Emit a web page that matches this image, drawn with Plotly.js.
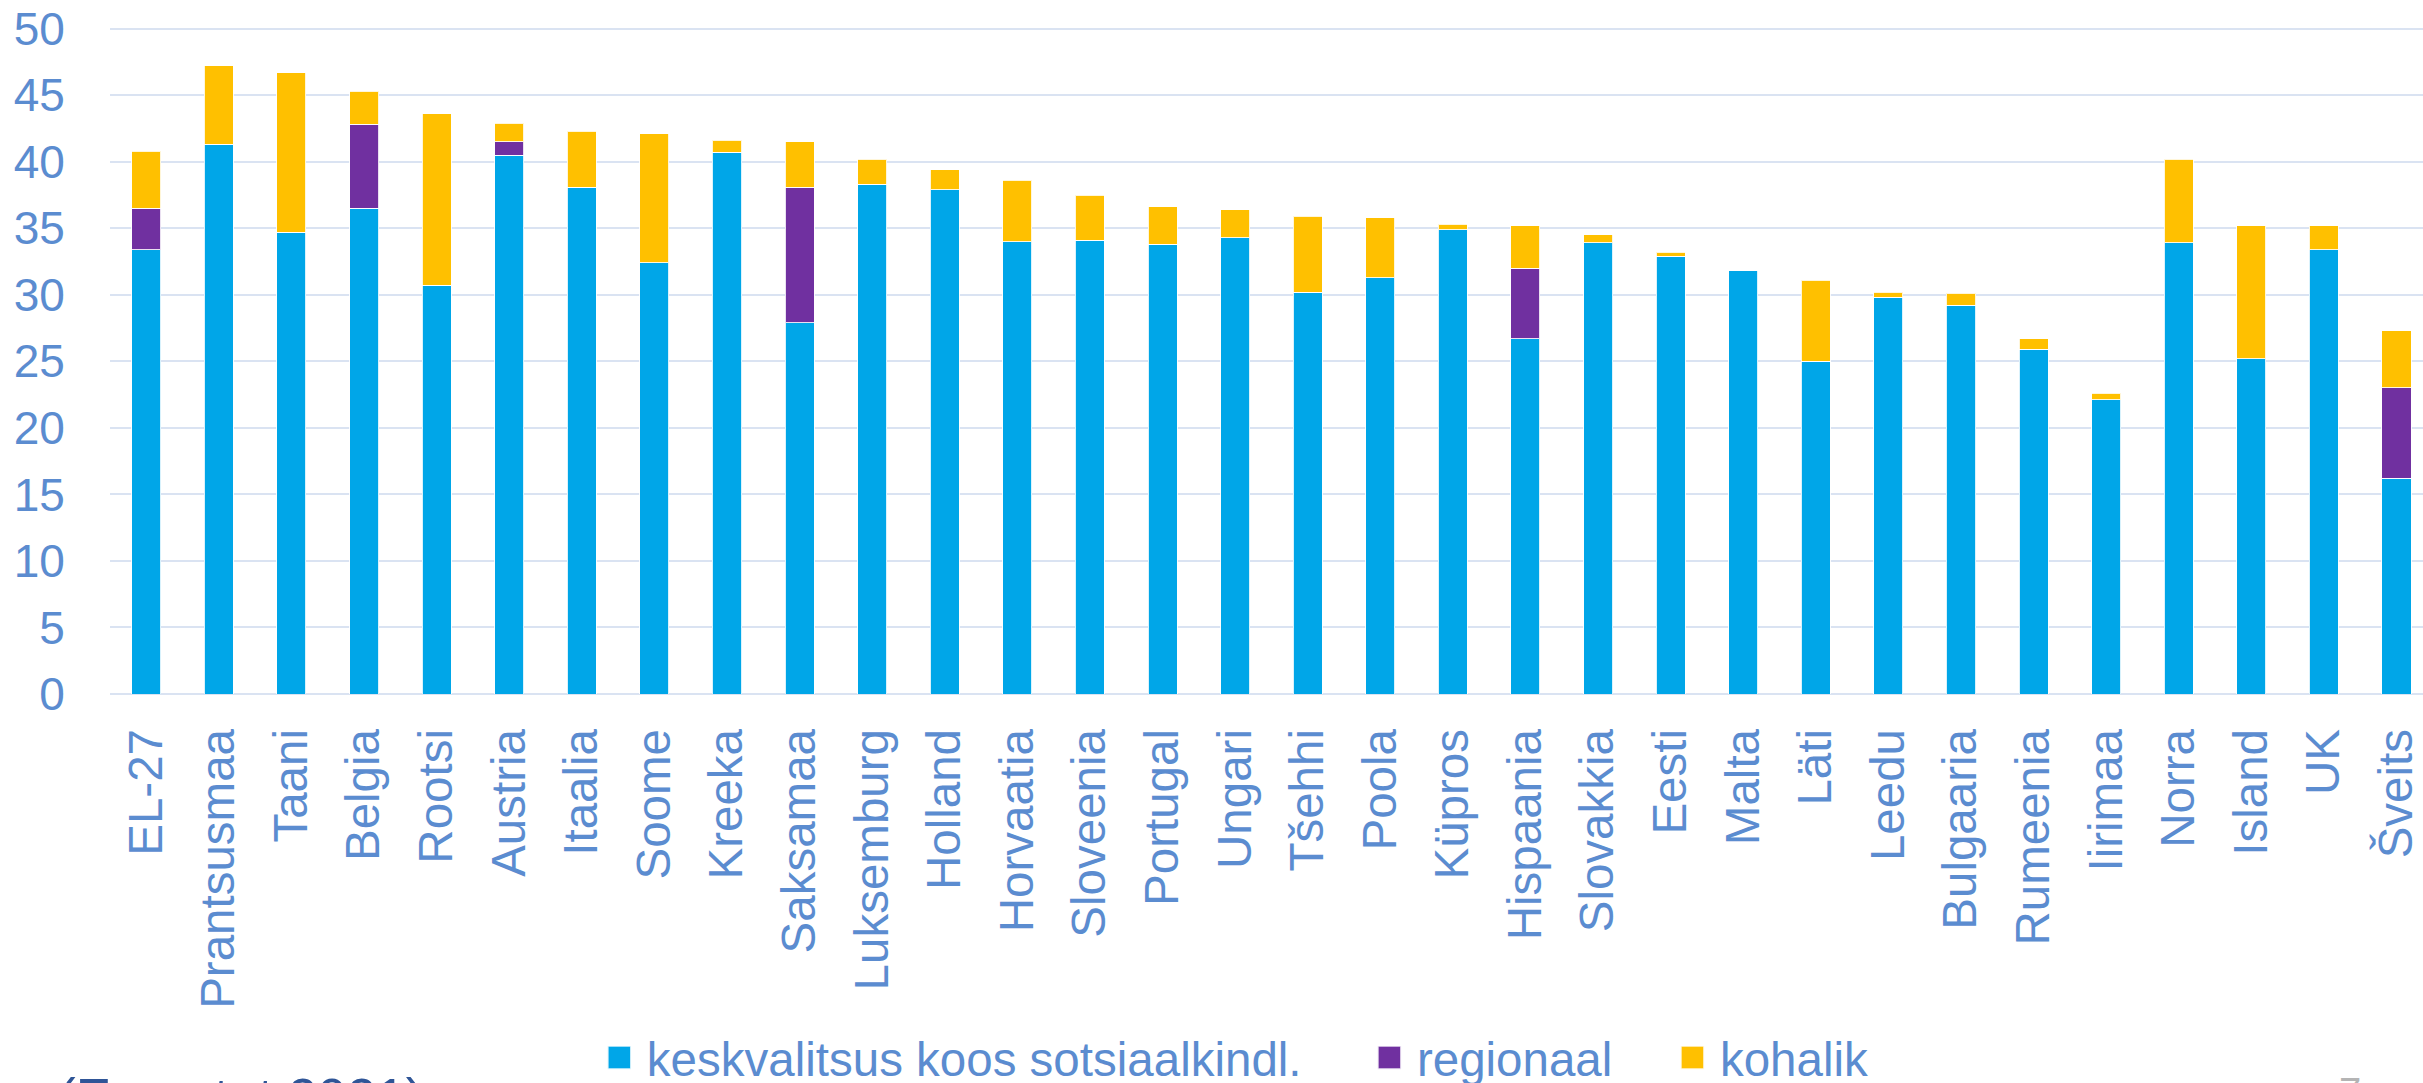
<!DOCTYPE html>
<html>
<head>
<meta charset="utf-8">
<script src="https://cdn.plot.ly/plotly-3.0.1.min.js"></script>
<style>
  html, body { margin: 0; padding: 0; background: #ffffff; }
  #chart { width: 2423px; height: 1083px; }
</style>
</head>
<body>
<div id="chart"></div>
<script>
const categories = ["EL-27","Prantsusmaa","Taani","Belgia","Rootsi","Austria","Itaalia","Soome","Kreeka","Saksamaa","Luksemburg","Holland","Horvaatia","Sloveenia","Portugal","Ungari","Tšehhi","Poola","Küpros","Hispaania","Slovakkia","Eesti","Malta","Läti","Leedu","Bulgaaria","Rumeenia","Iirimaa","Norra","Island","UK","Šveits"];

const keskvalitsus = [33.4,41.3,34.7,36.5,30.7,40.5,38.1,32.4,40.7,27.9,38.3,37.9,34.0,34.1,33.8,34.3,30.2,31.3,34.9,26.7,33.9,32.9,31.8,25.0,29.8,29.2,25.9,22.1,33.9,25.2,33.4,16.2];
const regionaal    = [3.1,0,0,6.3,0,1.0,0,0,0,10.2,0,0,0,0,0,0,0,0,0,5.3,0,0,0,0,0,0,0,0,0,0,0,6.8];
const kohalik      = [4.3,5.9,12.0,2.5,12.9,1.4,4.2,9.7,0.9,3.4,1.9,1.5,4.6,3.4,2.8,2.1,5.7,4.5,0.4,3.2,0.6,0.3,0,6.1,0.4,0.9,0.8,0.5,6.3,10.0,1.8,4.3];

const seriesNames = ["keskvalitsus koos sotsiaalkindl.", "regionaal", "kohalik"];
const seriesColors = ["#00A6E8", "#7030A0", "#FFC000"];
const yTicks = [0,5,10,15,20,25,30,35,40,45,50];
const sourceNote = "(Eurostat 2021)";
const pageNumber = "7";

const labelColor = "#5B8CD0";
const fontFamily = "Arial, 'Liberation Sans', sans-serif";
const gridColor = "#DAE3F2";

const W = 2423, H = 1083;
const yTop = 50.2;
const mL = 110.2, mR = 0, mB = H - 694.3;
const pxPerUnit = (694.3 - 29) / 50;
const mT = 29 - (yTop - 50) * pxPerUnit;
const plotW = W - mL - mR, plotH = H - mT - mB;
const px2x = p => (p - mL) / plotW;
const py2y = p => (H - mB - p) / plotH;

const lineStyle = {color: "rgba(255,255,255,0.85)", width: 1};
const legendIds = ["legend", "legend2", "legend3"];
const legendStartPx = [592, 1362, 1665];
const seriesValues = [keskvalitsus, regionaal, kohalik];

const traces = seriesNames.map((name, i) => ({
  type: "bar", name: name, x: categories, y: seriesValues[i],
  marker: {color: seriesColors[i], line: lineStyle},
  legend: legendIds[i],
  hoverinfo: "x+y+name"
}));

function legendBox(i) {
  return {
    orientation: "h",
    x: px2x(legendStartPx[i]), xanchor: "left",
    y: py2y(1058), yanchor: "middle",
    itemwidth: 45,
    font: {family: fontFamily, size: 47.5, color: labelColor},
    bgcolor: "rgba(0,0,0,0)",
    borderwidth: 0,
    itemclick: false, itemdoubleclick: false
  };
}

const layout = {
  width: W, height: H,
  paper_bgcolor: "#ffffff", plot_bgcolor: "#ffffff",
  barmode: "stack",
  bargap: 0.6,
  font: {family: fontFamily, size: 46, color: labelColor},
  margin: {l: mL, r: mR, t: mT, b: mB, pad: 0, autoexpand: false},
  xaxis: {
    type: "category",
    range: [-0.5, 31.365],
    tickangle: -90,
    ticks: "outside", ticklen: 15, tickcolor: "rgba(0,0,0,0)",
    tickfont: {family: fontFamily, size: 47.5, color: labelColor},
    showgrid: false, showline: false, zeroline: false,
    fixedrange: true
  },
  yaxis: {
    range: [0, yTop],
    tickvals: yTicks,
    ticktext: yTicks.map(String),
    ticks: "outside", ticklen: 35, tickcolor: "rgba(0,0,0,0)",
    tickfont: {family: fontFamily, size: 46, color: labelColor},
    showgrid: true, gridcolor: gridColor, gridwidth: 2,
    zeroline: true, zerolinecolor: gridColor, zerolinewidth: 2,
    showline: false,
    fixedrange: true
  },
  showlegend: true,
  legend: legendBox(0),
  legend2: legendBox(1),
  legend3: legendBox(2),
  annotations: [
    {text: sourceNote, xref: "paper", yref: "paper",
     x: px2x(56), y: py2y(1066), xanchor: "left", yanchor: "top",
     showarrow: false, font: {family: fontFamily, size: 53, color: "#2F5597"}},
    {text: pageNumber, xref: "paper", yref: "paper",
     x: px2x(2337), y: py2y(1068), xanchor: "left", yanchor: "top",
     showarrow: false, font: {family: fontFamily, size: 40, color: "#B4B4B4"}}
  ]
};

Plotly.newPlot("chart", traces, layout, {staticPlot: true, displayModeBar: false}).then(function (gd) {
  gd.querySelectorAll(".legendpoints path").forEach(function (p) {
    const t = p.getAttribute("transform") || "";
    p.setAttribute("transform", t + " scale(1.95)");
  });
});
</script>
</body>
</html>
